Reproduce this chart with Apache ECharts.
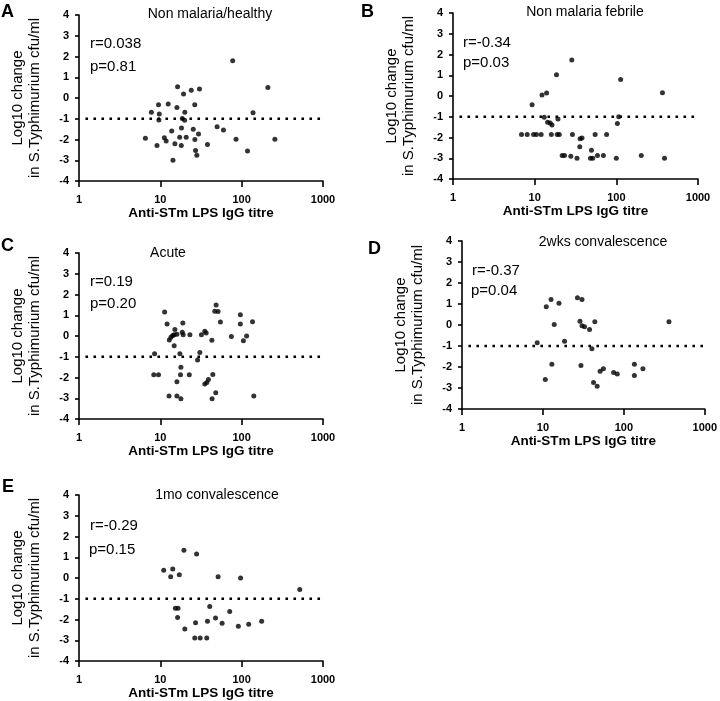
<!DOCTYPE html>
<html>
<head>
<meta charset="utf-8">
<script src="https://cdn.jsdelivr.net/npm/echarts@6/dist/echarts.min.js"></script>
<style>
html,body{margin:0;padding:0;background:#fff;}
#chart{width:720px;height:701px;}
</style>
</head>
<body>
<div id="chart"></div>
<script>
// ---- Data ----
const xTickLabels = [1, 10, 100, 1000];
const yTickLabels = [-4, -3, -2, -1, 0, 1, 2, 3, 4];
const refLine = [[1.2, -1], [1000, -1]];

const panelLetters = ['A', 'B', 'C', 'D', 'E'];
const panelTitles = ['Non malaria/healthy', 'Non malaria febrile', 'Acute', '2wks convalescence', '1mo convalescence'];
const rLabels = ['r=0.038', 'r=-0.34', 'r=0.19', 'r=-0.37', 'r=-0.29'];
const pLabels = ['p=0.81', 'p=0.03', 'p=0.20', 'p=0.04', 'p=0.15'];
const xAxisTitle = 'Anti-STm LPS IgG titre';
const yAxisTitle = 'Log10 change\nin S.Typhimurium cfu/ml';

const A_titre = [77.6, 210, 138, 256, 85.3, 118, 49.9, 59.7, 38, 16.3, 24, 30.3, 19.3, 9.5, 12.5, 16, 26.5, 7.76, 9.7, 20, 9.6, 18.6, 19.9, 18.2, 25.4, 29.5, 13.8, 6.55, 11.2, 11.8, 17.3, 20.8, 26.6, 9.1, 15.1, 18.1, 27.1, 28.1, 14.3];
const A_change = [1.79, 0.51, -0.71, -1.99, -1.99, -2.56, -1.38, -1.54, -2.24, 0.54, 0.37, 0.43, 0.19, -0.32, -0.29, -0.46, -0.32, -0.69, -0.77, -0.69, -1.06, -0.99, -1.07, -1.44, -1.51, -1.73, -1.59, -1.94, -1.92, -2.07, -1.89, -1.89, -2.0, -2.29, -2.21, -2.29, -2.53, -2.76, -3.0];

const B_titre = [28.5, 18.5, 113, 367, 14, 12.3, 9.3, 13.1, 19.3, 14.4, 15.5, 16.3, 107, 103, 6.9, 8.1, 9.7, 10.5, 12, 16, 18.9, 20, 29, 55, 76, 38, 36, 35.7, 49.6, 21.7, 23.2, 27.7, 33, 48.2, 51.4, 58.7, 69.4, 100, 202, 389];
const B_change = [1.74, 1.02, 0.79, 0.16, 0.15, 0.05, -0.42, -1.03, -1.11, -1.27, -1.3, -1.4, -1.0, -1.32, -1.85, -1.85, -1.85, -1.85, -1.85, -1.85, -1.85, -1.85, -1.85, -1.85, -1.85, -2.02, -2.06, -2.45, -2.61, -2.87, -2.87, -2.9, -3.0, -3.0, -3.0, -2.87, -2.87, -3.0, -2.87, -3.0];

const C_titre = [11.3, 12.1, 15.1, 18.9, 12.9, 13.5, 14.2, 14.8, 16, 18.6, 19.1, 23.1, 14.8, 17.4, 8.5, 8.3, 9.5, 17.9, 17.7, 22.7, 16, 12.8, 16, 17.9, 32, 35.2, 36.6, 43, 30.6, 28.7, 48.5, 46.7, 51.3, 54.8, 74.7, 96.3, 96.3, 136, 115, 105, 141, 44.2, 39, 37.3, 35.2, 48, 43.3];
const C_change = [1.16, 0.58, 0.31, 0.63, -0.19, -0.06, 0.03, 0.06, 0.08, 0.18, 0.06, 0.06, -0.47, -0.85, -0.85, -1.87, -1.87, -1.5, -1.87, -1.87, -2.21, -2.89, -2.89, -3.03, 0.06, 0.23, 0.15, -0.21, -0.79, -1.16, 1.5, 1.19, 1.18, 0.68, -0.03, 1.03, 0.58, 0.69, 0.0, -0.23, -2.89, -1.85, -2.1, -2.24, -2.31, -2.74, -3.03];

const D_titre = [12.6, 11, 15.8, 26.7, 30.4, 13.8, 28.7, 30.4, 32.7, 37.7, 43.8, 361, 8.5, 18.5, 40.3, 12.9, 29.5, 10.7, 50.9, 55.9, 74.8, 82.9, 135, 135, 172, 42.2, 46.8];
const D_change = [1.21, 0.87, 1.03, 1.3, 1.21, 0.02, 0.18, -0.03, -0.08, -0.21, 0.16, 0.16, -0.85, -0.77, -1.13, -1.87, -1.93, -2.59, -2.2, -2.08, -2.26, -2.33, -1.87, -2.41, -2.08, -2.74, -2.92];

const E_titre = [11, 14.2, 13.4, 17.1, 19.5, 27.9, 51.3, 97, 518, 15.3, 16.5, 16.3, 20, 27.1, 40.5, 38, 47.7, 57.5, 71.3, 91, 122, 176, 26.5, 30.9, 37.2];
const E_change = [0.37, 0.44, 0.06, 0.16, 1.34, 1.16, 0.06, 0.0, -0.55, -1.45, -1.45, -1.9, -2.45, -2.15, -1.37, -2.08, -1.92, -2.18, -1.61, -2.32, -2.23, -2.08, -2.89, -2.89, -2.89];

const panelTitres = [A_titre, B_titre, C_titre, D_titre, E_titre];
const panelChanges = [A_change, B_change, C_change, D_change, E_change];

// ---- Layout (pixels) ----
const FONT = '"Liberation Sans", Arial, Helvetica, sans-serif';
const grids = [
  {left: 79, top: 15, width: 244, height: 166},
  {left: 453, top: 13, width: 245, height: 166},
  {left: 79, top: 253, width: 244, height: 166},
  {left: 462, top: 241, width: 245, height: 168},
  {left: 79, top: 495, width: 244, height: 167}
];
const letterPos = [[1, 12], [361, 12], [1, 246], [368, 249], [2, 487]];
const titlePos = [[210, 14], [585, 12.5], [168, 253], [603, 242], [217, 495.5]];
const rPos = [[90, 44], [463, 42.5], [90, 282], [472, 271], [90, 525.5]];
const pPos = [[90, 67], [463, 62.5], [90, 303.5], [471, 291], [89, 550]];

const chart = echarts.init(document.getElementById('chart'), null, {renderer: 'canvas'});

const xAxes = [], yAxes = [], series = [], graphics = [];
grids.forEach((g, i) => {
  xAxes.push({
    gridIndex: i, type: 'log', logBase: 10, min: xTickLabels[0], max: xTickLabels[xTickLabels.length - 1],
    name: xAxisTitle, nameLocation: 'middle', nameGap: 22,
    nameTextStyle: {fontFamily: FONT, fontWeight: 'bold', fontSize: 13.5, color: '#000'},
    axisLine: {onZero: false, lineStyle: {color: '#000', width: 1.6}},
    axisTick: {show: true, length: 6, lineStyle: {color: '#000', width: 1.6}},
    minorTick: {show: false},
    splitLine: {show: false},
    axisLabel: {fontFamily: FONT, fontWeight: 'bold', fontSize: 11, color: '#000', margin: 13,
      formatter: v => String(Math.round(v))}
  });
  yAxes.push({
    gridIndex: i, type: 'value', min: yTickLabels[0], max: yTickLabels[yTickLabels.length - 1], interval: 1,
    name: yAxisTitle, nameLocation: 'middle', nameRotate: 90, nameGap: 36,
    nameTextStyle: {fontFamily: FONT, fontSize: 15, color: '#000', lineHeight: 17},
    axisLine: {show: true, onZero: false, lineStyle: {color: '#000', width: 1.6}},
    axisTick: {show: true, length: 4, lineStyle: {color: '#000', width: 1.6}},
    splitLine: {show: false},
    axisLabel: {fontFamily: FONT, fontWeight: 'bold', fontSize: 11, color: '#000', margin: 10}
  });
  series.push({
    type: 'line', xAxisIndex: i, yAxisIndex: i, data: refLine, symbol: 'none', silent: true,
    lineStyle: {color: '#000', width: 2.6, type: [2.6, 5.4], cap: 'butt'}, z: 1
  });
  series.push({
    type: 'scatter', xAxisIndex: i, yAxisIndex: i, symbol: 'circle', symbolSize: 5,
    itemStyle: {color: '#000'}, z: 3,
    data: panelTitres[i].map((t, k) => [t, panelChanges[i][k]])
  });
  graphics.push({type: 'text', x: letterPos[i][0], y: letterPos[i][1],
    style: {text: panelLetters[i], font: 'bold 18px ' + FONT, fill: '#000', align: 'left', verticalAlign: 'middle'}});
  graphics.push({type: 'text', x: titlePos[i][0], y: titlePos[i][1],
    style: {text: panelTitles[i], font: '14px ' + FONT, fill: '#000', align: 'center', verticalAlign: 'middle'}});
  graphics.push({type: 'text', x: rPos[i][0], y: rPos[i][1],
    style: {text: rLabels[i], font: '15px ' + FONT, fill: '#000', align: 'left', verticalAlign: 'middle'}});
  graphics.push({type: 'text', x: pPos[i][0], y: pPos[i][1],
    style: {text: pLabels[i], font: '15px ' + FONT, fill: '#000', align: 'left', verticalAlign: 'middle'}});
});

chart.setOption({
  animation: false,
  backgroundColor: '#fff',
  grid: grids.map(g => Object.assign({containLabel: false}, g)),
  xAxis: xAxes,
  yAxis: yAxes,
  series: series,
  graphic: graphics
});
</script>
</body>
</html>
